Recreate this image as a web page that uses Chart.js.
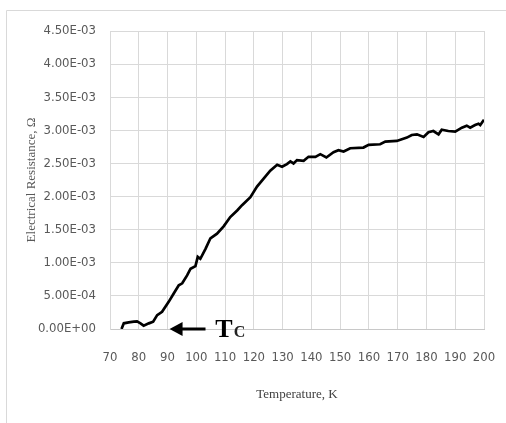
<!DOCTYPE html>
<html>
<head>
<meta charset="utf-8">
<script src="https://cdn.jsdelivr.net/npm/chart.js@4"></script>
<style>
    html, body { margin: 0; padding: 0; background: #fff; }
    canvas { display: block; }
</style>
</head>
<body>
<canvas id="chartResistance" width="506" height="423"></canvas>
<script>
// temperatura (K) e resistencia (ohm)
const temperatura = [
    74.0, 74.8, 76.5, 78.3, 79.4, 80.6, 81.7, 83.5, 85.0, 86.4,
    88.1, 90.4, 92.2, 93.9, 95.1, 96.8, 98.0, 99.7, 100.5, 101.4,
    103.2, 104.9, 107.2, 109.5, 111.8, 114.2, 115.9, 118.8, 121.1, 123.4,
    125.7, 128.1, 129.8, 131.5, 132.7, 133.8, 135.0, 137.3, 139.0, 141.4,
    143.1, 145.2, 147.7, 149.4, 151.2, 153.5, 158.1, 159.9, 163.9, 165.7,
    169.7, 173.2, 174.9, 176.7, 179.0, 180.7, 182.4, 184.2, 185.3, 187.6,
    190.0, 192.3, 194.0, 195.2, 196.9, 198.1, 198.7, 200.0
];
const resistencia = [
    0.00000, 0.000086, 0.00010, 0.00011, 0.000115, 0.000085, 0.00005, 0.000085, 0.00011, 0.00021,
    0.00026, 0.00041, 0.00054, 0.00066, 0.00069, 0.00081, 0.00091, 0.00095, 0.00109, 0.00106,
    0.00121, 0.00137, 0.00144, 0.00155, 0.00169, 0.00179, 0.00187, 0.00199, 0.00215, 0.00227,
    0.00239, 0.00248, 0.00245, 0.00249, 0.00253, 0.00250, 0.00255, 0.00254, 0.00260, 0.00260,
    0.00264, 0.00259, 0.00267, 0.00270, 0.00268, 0.00273, 0.00274, 0.00278, 0.00279, 0.00283,
    0.00284, 0.00289, 0.00293, 0.00294, 0.00290, 0.00297, 0.00299, 0.00294, 0.00301, 0.00299,
    0.00298, 0.00304, 0.00307, 0.00304, 0.00308, 0.00310, 0.00308, 0.00316
];
const ticks_x = [70, 80, 90, 100, 110, 120, 130, 140, 150, 160, 170, 180, 190, 200];
const ticks_y = [0, 0.0005, 0.001, 0.0015, 0.002, 0.0025, 0.003, 0.0035, 0.004, 0.0045];

// seta do Tc: ponta, fim da haste e inicio do texto (K)
const tc_seta = [90.7, 103.2, 106.6];

function formata_exp(v) {
    if (Math.abs(v) < 1e-12) return '0.00E+00';
    const partes = v.toExponential(2).toUpperCase().split('E');
    const exp = parseInt(partes[1], 10);
    const sinal = exp < 0 ? '-' : '+';
    return partes[0] + 'E' + sinal + String(Math.abs(exp)).padStart(2, '0');
}

function renderiza_resistencia() {
    const ctx = document.getElementById('chartResistance').getContext('2d');
    const pontos = temperatura.map((t, i) => ({ x: t, y: resistencia[i] }));
    const fonteTicks = { family: '"Liberation Sans Narrow", "DejaVu Sans Condensed", sans-serif', size: 13 };
    const fonteTitulo = { family: '"Liberation Serif", "DejaVu Serif", serif', size: 13 };

    new Chart(ctx, {
        type: 'scatter',
        data: {
            datasets: [{
                data: pontos,
                showLine: true,
                borderColor: '#000',
                borderWidth: 2.7,
                pointRadius: 0,
                tension: 0,
            }]
        },
        options: {
            responsive: false,
            animation: false,
            events: [],
            layout: { padding: { left: 0, right: 22, top: 31, bottom: 0 } },
            plugins: {
                legend: { display: false },
                tooltip: { enabled: false }
            },
            scales: {
                x: {
                    type: 'linear',
                    min: 70,
                    max: 200,
                    afterBuildTicks: scale => { scale.ticks = ticks_x.map(v => ({ value: v })); },
                    afterFit: scale => {
                        scale.height = 94;
                        scale.paddingLeft = 0;
                        scale.paddingRight = 0;
                    },
                    grid: { color: '#d9d9d9', drawTicks: false },
                    border: { color: '#c8c8c8' },
                    ticks: { color: '#595959', font: fonteTicks, padding: 21, maxRotation: 0 },
                    title: {
                        display: true,
                        text: 'Temperature, K',
                        color: '#404040',
                        font: fonteTitulo,
                        padding: { top: 0, bottom: 21 }
                    }
                },
                y: {
                    type: 'linear',
                    min: 0,
                    max: 0.0045,
                    afterBuildTicks: scale => { scale.ticks = ticks_y.map(v => ({ value: v })); },
                    afterFit: scale => {
                        scale.width = 110;
                        scale.paddingTop = 0;
                        scale.paddingBottom = 0;
                    },
                    grid: { color: '#d9d9d9', drawTicks: false },
                    border: { color: '#d9d9d9' },
                    ticks: { color: '#595959', font: fonteTicks, padding: 14, callback: v => formata_exp(v) },
                    title: {
                        display: true,
                        text: 'Electrical Resistance, Ω',
                        color: '#595959',
                        font: fonteTitulo,
                        padding: { top: 24, bottom: 0 }
                    }
                }
            }
        },
        plugins: [{
            id: 'moldura',
            beforeDraw: function(chart) {
                const c = chart.ctx;
                c.save();
                c.strokeStyle = '#d9d9d9';
                c.lineWidth = 1;
                c.beginPath();
                c.moveTo(6.5, chart.height);
                c.lineTo(6.5, 10.5);
                c.lineTo(chart.width, 10.5);
                c.stroke();
                c.restore();
            }
        }, {
            id: 'setaTc',
            afterDraw: function(chart) {
                const c = chart.ctx;
                const sx = chart.scales.x;
                const sy = chart.scales.y;
                const y0 = sy.getPixelForValue(0);
                const xPonta = sx.getPixelForValue(tc_seta[0]);
                const xFim = sx.getPixelForValue(tc_seta[1]);
                const xTexto = sx.getPixelForValue(tc_seta[2]);
                c.save();
                c.fillStyle = '#000';
                c.strokeStyle = '#000';
                c.lineWidth = 3;
                c.beginPath();
                c.moveTo(xPonta + 10, y0);
                c.lineTo(xFim, y0);
                c.stroke();
                c.beginPath();
                c.moveTo(xPonta, y0);
                c.lineTo(xPonta + 13, y0 - 7);
                c.lineTo(xPonta + 13, y0 + 7);
                c.closePath();
                c.fill();
                c.textBaseline = 'alphabetic';
                c.textAlign = 'left';
                c.font = 'bold 26px "Liberation Serif", serif';
                c.fillText('T', xTexto, y0 + 8);
                const w = c.measureText('T').width;
                c.font = 'bold 16px "Liberation Serif", serif';
                c.fillStyle = '#222';
                c.fillText('C', xTexto + w + 1, y0 + 8);
                c.restore();
            }
        }]
    });
}

renderiza_resistencia();
</script>
</body>
</html>
